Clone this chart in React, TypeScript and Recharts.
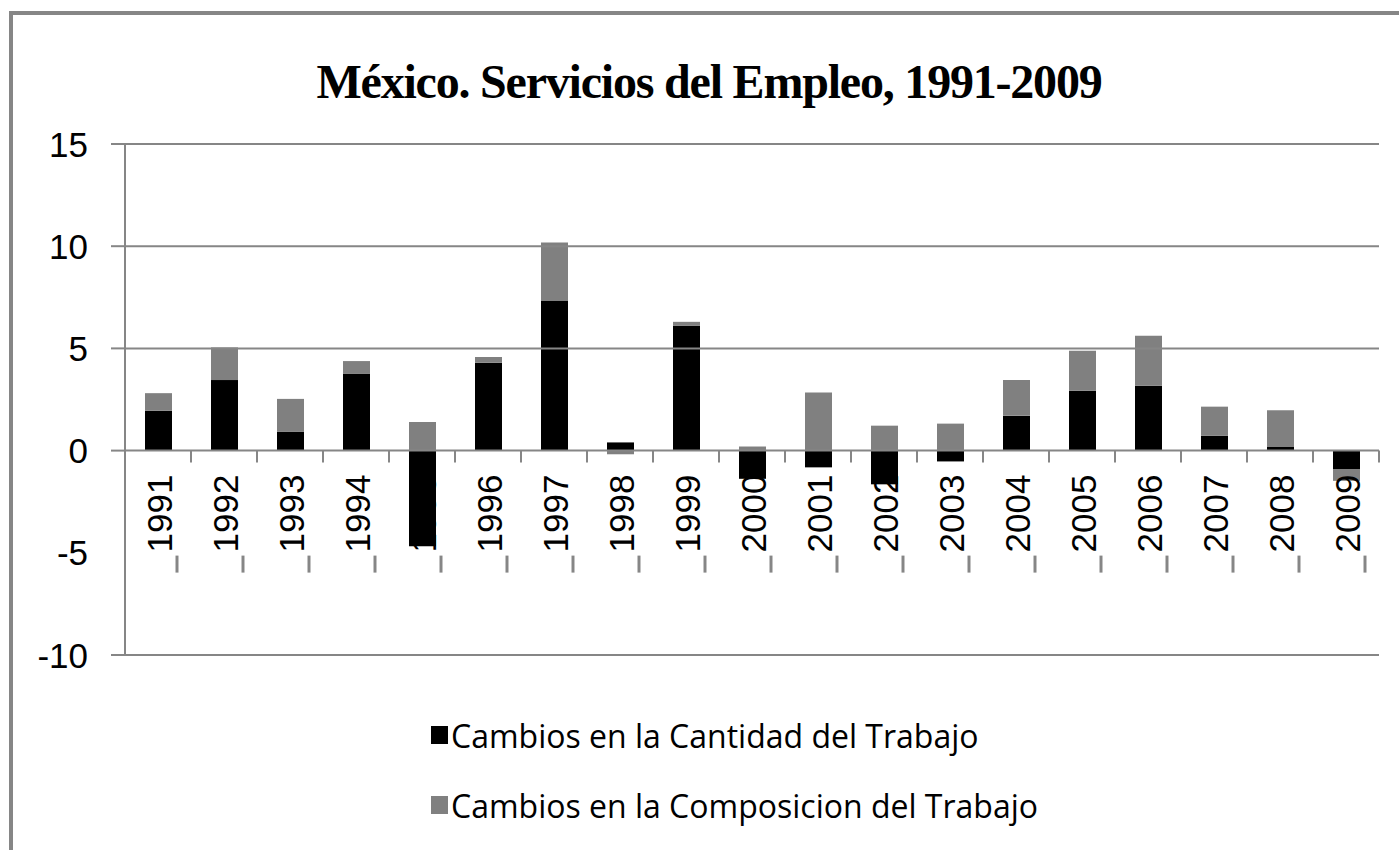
import React from "react";
import { BarChart, Bar, XAxis, YAxis, ReferenceLine, Legend } from "recharts";

const years = ["1991","1992","1993","1994","1995","1996","1997","1998","1999","2000","2001","2002","2003","2004","2005","2006","2007","2008","2009"];
const cantidad = [1.95, 3.45, 0.93, 3.75, -4.68, 4.3, 7.34, 0.4, 6.1, -1.38, -0.82, -1.65, -0.53, 1.7, 2.93, 3.17, 0.73, 0.2, -0.9];
const composicion = [0.86, 1.6, 1.6, 0.63, 1.4, 0.28, 2.84, -0.18, 0.2, 0.2, 2.84, 1.22, 1.32, 1.76, 1.96, 2.45, 1.42, 1.77, -0.58];
const yTicks = [-10, -5, 0, 5, 10, 15];
const gridValues = [15, 10, 5, -10];
const seriesNames = ["Cambios en la Cantidad del Trabajo", "Cambios en la Composicion del Trabajo"];
const colors = ["#000000", "#808080"];

const data = years.map((y, i) => ({ year: y, cantidad: cantidad[i], composicion: composicion[i] }));

const W = 1399;
const H = 850;
const PLOT_TOP = 144;
const PLOT_BOTTOM = 655;
const PLOT_LEFT = 125;
const PLOT_RIGHT = 1379;
const Y_MIN = -10;
const Y_MAX = 15;
const LEGEND_H = 120;
const ZERO_Y = PLOT_TOP + ((Y_MAX - 0) / (Y_MAX - Y_MIN)) * (PLOT_BOTTOM - PLOT_TOP);
const BAND = (PLOT_RIGHT - PLOT_LEFT) / years.length;
const GRAY = "#868686";

const XTick = (props: any) => {
  const { x, payload } = props;
  return (
    <g>
      <line x1={x + BAND / 2} x2={x + BAND / 2} y1={ZERO_Y} y2={ZERO_Y + 12} stroke={GRAY} strokeWidth={2} />
      <text
        transform={`translate(${x + 1},${ZERO_Y + 24}) rotate(-90)`}
        textAnchor="end"
        dominantBaseline="central"
        fontFamily="'Liberation Sans', Arial, sans-serif"
        fontSize={35}
        fill="#000"
      >
        {payload.value}
      </text>
      <line x1={x + 19} x2={x + 19} y1={ZERO_Y + 105} y2={ZERO_Y + 122} stroke={GRAY} strokeWidth={3} />
    </g>
  );
};

const YTick = (props: any) => {
  const { y, payload } = props;
  return (
    <g>
      {payload.value !== -5 && (
        <line x1={PLOT_LEFT - 14} x2={PLOT_LEFT} y1={y} y2={y} stroke={GRAY} strokeWidth={2} />
      )}
      <text
        x={88}
        y={y}
        textAnchor="end"
        dominantBaseline="central"
        fontFamily="'Liberation Sans', Arial, sans-serif"
        fontSize={35}
        fill="#000"
      >
        {payload.value}
      </text>
    </g>
  );
};

const LegendContent = () => (
  <div style={{ fontFamily: "'Open Sans', 'Liberation Sans', sans-serif", fontSize: 32, color: "#000", height: LEGEND_H }}>
    {seriesNames.map((n, i) => (
      <div key={n} style={{ display: "flex", alignItems: "center", height: 36, marginBottom: i === 0 ? 34 : 0 }}>
        <span style={{ display: "inline-block", width: 17, height: 18, background: colors[i], marginRight: 3 }} />
        <span style={{ whiteSpace: "nowrap" }}>{n}</span>
      </div>
    ))}
  </div>
);

export default function App() {
  return (
    <div style={{ position: "absolute", left: 0, top: 0, width: W, height: H, overflow: "hidden", background: "#fff" }}>
      <div
        style={{
          position: "absolute",
          left: 9,
          top: 11,
          width: 1600,
          height: 1000,
          border: `4px solid ${GRAY}`,
          boxSizing: "border-box",
        }}
      />
      <div
        style={{
          position: "absolute",
          left: 0,
          width: 1418,
          top: 50,
          textAlign: "center",
          fontFamily: "'Liberation Serif', 'Times New Roman', serif",
          fontWeight: "bold",
          fontSize: 48,
          letterSpacing: -1.2,
          lineHeight: "64px",
          color: "#000",
        }}
      >
        México. Servicios del Empleo, 1991-2009
      </div>
      <div style={{ position: "absolute", left: 0, top: 0 }}>
        <BarChart
          width={W}
          height={H}
          data={data}
          stackOffset="sign"
          barSize={27}
          margin={{ top: PLOT_TOP, right: W - PLOT_RIGHT, bottom: 0, left: 0 }}
        >
          <XAxis dataKey="year" height={H - PLOT_BOTTOM - LEGEND_H} axisLine={false} tickLine={false} tick={<XTick />} interval={0} />
          <YAxis
            width={PLOT_LEFT}
            domain={[Y_MIN, Y_MAX]}
            ticks={yTicks}
            interval={0}
            axisLine={{ stroke: GRAY, strokeWidth: 2 }}
            tickLine={false}
            tick={<YTick />}
          />
          {gridValues.map((v) => (
            <ReferenceLine key={v} y={v} stroke={GRAY} strokeWidth={2} />
          ))}
          <ReferenceLine y={0} stroke={GRAY} strokeWidth={2} />
          <Bar dataKey="cantidad" stackId="a" fill={colors[0]} isAnimationActive={false} name={seriesNames[0]} />
          <Bar dataKey="composicion" stackId="a" fill={colors[1]} isAnimationActive={false} name={seriesNames[1]} />
          <Legend content={<LegendContent />} wrapperStyle={{ left: 431, top: 717, width: 700, height: LEGEND_H }} />
        </BarChart>
      </div>
    </div>
  );
}
